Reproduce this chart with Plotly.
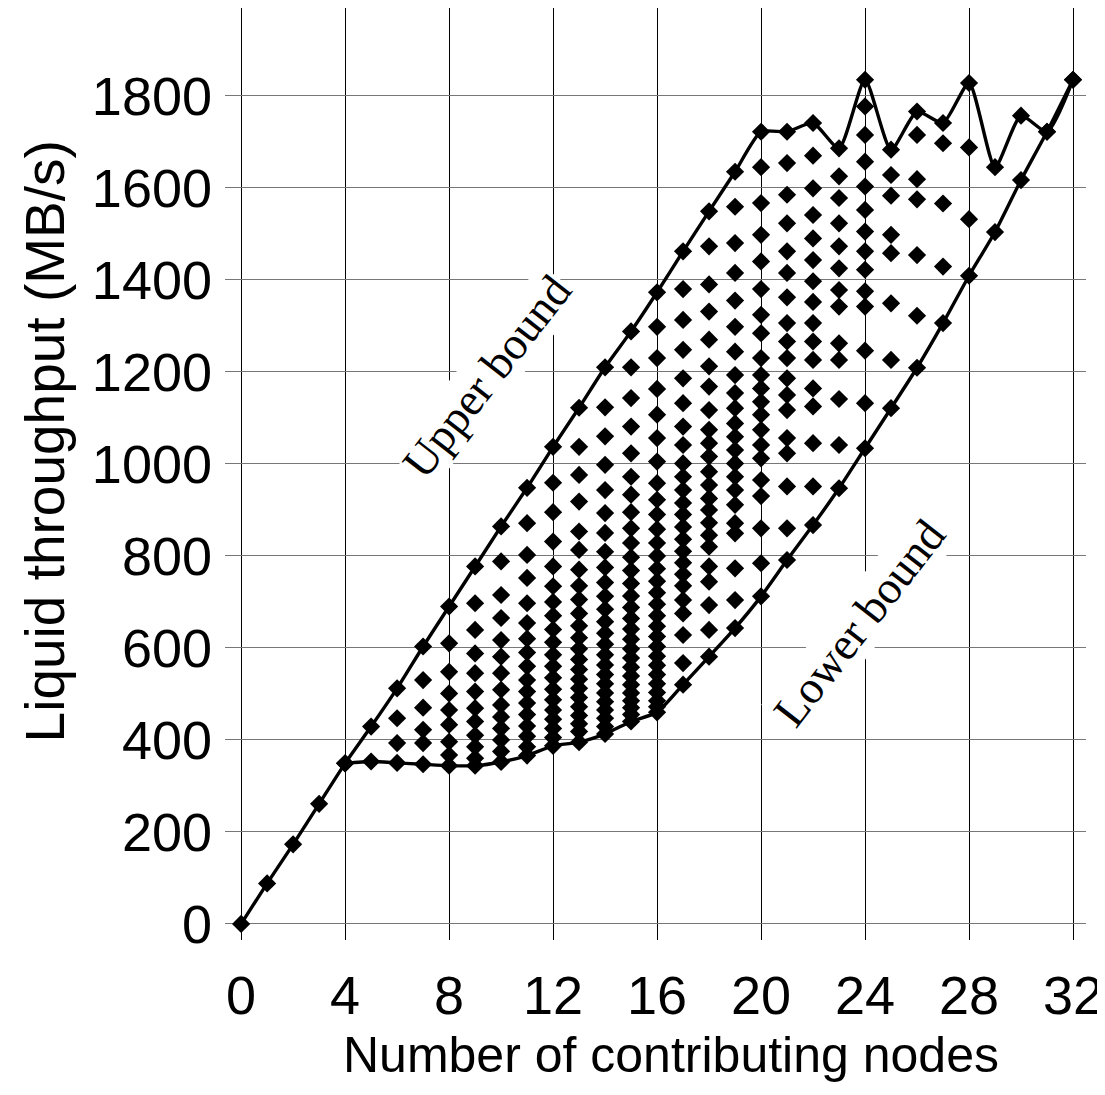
import plotly.graph_objects as go

# ---- data ----
nodes = list(range(0, 33))
upper_bound = [0, 88, 173, 261, 349, 429, 512, 603, 690, 777, 864, 948, 1037, 1122, 1210, 1288,
               1373, 1462, 1549, 1635, 1722, 1722, 1741, 1686, 1835, 1683, 1766, 1741, 1828,
               1645, 1757, 1722, 1835]
lower_nodes = list(range(4, 33))
lower_bound = [349, 353, 350, 347, 344, 344, 352, 366, 387, 395, 413, 440, 460, 520, 581, 643,
               712, 791, 867, 947, 1034, 1121, 1209, 1306, 1409, 1504, 1617, 1722, 1835]

mid_06 = [447, 393]
mid_07 = [530, 470, 422, 393]
mid_08 = [610, 548, 501, 465, 433, 396, 367]
mid_09 = [697, 639, 588, 545, 505, 469, 440, 410, 385, 360]
mid_10 = [788, 715, 665, 617, 581, 545, 509, 476, 450, 425, 400, 375]
mid_11 = [871, 802, 752, 697, 654, 620, 590, 560, 530, 505, 480, 455, 430, 408, 385]
mid_12 = [959, 895, 831, 777, 734, 700, 670, 640, 612, 585, 560, 535, 510, 487, 465, 445, 425, 405]
mid_13 = [1037, 976, 918, 853, 813, 770, 735, 705, 675, 648, 622, 598, 575, 553, 532, 512, 492,
          472, 453, 435, 418]
mid_14 = [1123, 1060, 998, 943, 893, 850, 809, 775, 742, 712, 684, 657, 632, 608, 585, 563, 542,
          522, 502, 483, 465, 447, 429]
mid_15 = [1210, 1143, 1081, 1023, 972, 933, 895, 860, 828, 797, 768, 740, 713, 688, 664, 641, 619,
          598, 578, 558, 539, 520, 502, 485, 470, 455]
mid_16 = [1298, 1230, 1163, 1107, 1056, 1005, 958, 922, 890, 858, 828, 800, 772, 745, 720, 695,
          670, 647, 625, 603, 582, 562, 542, 522, 503, 485, 472]
mid_17 = [1380, 1313, 1248, 1186, 1132, 1081, 1041, 1001, 972, 943, 915, 890, 863, 836, 810, 785,
          760, 735, 704, 675, 628, 567]
mid_18 = [1473, 1390, 1331, 1270, 1212, 1168, 1117, 1074, 1045, 1016, 983, 954, 925, 900, 872,
          845, 820, 777, 744, 693, 639]
mid_19 = [1559, 1480, 1415, 1355, 1298, 1244, 1193, 1154, 1121, 1088, 1059, 1030, 1001, 972, 943,
          911, 871, 849, 773, 704]
mid_20 = [1645, 1567, 1498, 1440, 1380, 1324, 1284, 1230, 1193, 1164, 1135, 1107, 1074, 1041,
          1012, 965, 930, 860, 784]
mid_21 = [1654, 1585, 1523, 1462, 1415, 1362, 1306, 1266, 1230, 1186, 1150, 1117, 1056, 1023, 951, 860]
mid_22 = [1670, 1599, 1541, 1490, 1443, 1397, 1352, 1306, 1266, 1226, 1164, 1125, 1045, 951]
mid_23 = [1625, 1578, 1523, 1473, 1425, 1378, 1342, 1262, 1226, 1141, 1041]
mid_24 = [1777, 1715, 1657, 1603, 1552, 1505, 1462, 1422, 1375, 1342, 1246, 1132]
mid_25 = [1628, 1583, 1498, 1458, 1349, 1226]
mid_26 = [1715, 1619, 1575, 1454, 1322]
mid_27 = [1697, 1566, 1429]
mid_28 = [1688, 1532]

middle_columns = [(6, mid_06), (7, mid_07), (8, mid_08), (9, mid_09), (10, mid_10), (11, mid_11),
                  (12, mid_12), (13, mid_13), (14, mid_14), (15, mid_15), (16, mid_16),
                  (17, mid_17), (18, mid_18), (19, mid_19), (20, mid_20), (21, mid_21),
                  (22, mid_22), (23, mid_23), (24, mid_24), (25, mid_25), (26, mid_26),
                  (27, mid_27), (28, mid_28)]

x_ticks = [0, 4, 8, 12, 16, 20, 24, 28, 32]
y_ticks = [0, 200, 400, 600, 800, 1000, 1200, 1400, 1600, 1800]

# ---- gather all points ----
px, py = [], []
for n, v in zip(nodes, upper_bound):
    px.append(n); py.append(v)
for n, v in zip(lower_nodes, lower_bound):
    px.append(n); py.append(v)
for n, vals in middle_columns:
    for v in vals:
        px.append(n); py.append(v)

fig = go.Figure()
line_style = dict(color="black", width=3.4, shape="spline", smoothing=0.6)
fig.add_trace(go.Scatter(x=nodes, y=upper_bound, mode="lines", line=line_style, hoverinfo="skip"))
fig.add_trace(go.Scatter(x=lower_nodes, y=lower_bound, mode="lines", line=line_style, hoverinfo="skip"))
fig.add_trace(go.Scatter(x=px, y=py, mode="markers",
                         marker=dict(symbol="diamond", size=14, color="black", line=dict(width=0))))

sans = "Liberation Sans, Arial, sans-serif"
serif = "Liberation Serif, Times New Roman, serif"

fig.update_layout(
    width=1097, height=1087,
    margin=dict(l=217, r=19, t=0, b=155),
    plot_bgcolor="white", paper_bgcolor="white",
    showlegend=False,
    xaxis=dict(range=[-0.62, 32.5], tickvals=x_ticks, ticktext=[str(t) for t in x_ticks],
               showgrid=True, gridcolor="black", gridwidth=1, zeroline=False, showline=False,
               ticks="", tickfont=dict(family=sans, size=54, color="black"),
               ticklabelstandoff=19),
    yaxis=dict(range=[-35, 1991], tickvals=y_ticks, ticktext=[str(t) for t in y_ticks],
               showgrid=True, gridcolor="#777777", gridwidth=1, zeroline=False, showline=False,
               ticks="", tickfont=dict(family=sans, size=54, color="black"),
               ticklabelstandoff=12),
    annotations=[
        dict(text="Number of contributing nodes", x=0.518, y=-0.1234, xref="paper", yref="paper",
             xanchor="center", yanchor="middle",
             showarrow=False, font=dict(family=sans, size=50, color="black")),
        dict(text="Liquid throughput (MB/s)", x=-0.209, y=0.535, xref="paper", yref="paper",
             xanchor="center", yanchor="middle",
             showarrow=False, textangle=-90, font=dict(family=sans, size=55, color="black")),
        dict(text="Upper bound", x=9.45, y=1190, xref="x", yref="y", showarrow=False,
             textangle=-52, bgcolor="white", font=dict(family=serif, size=46, color="black")),
        dict(text="Lower bound", x=23.8, y=655, xref="x", yref="y", showarrow=False,
             textangle=-52, bgcolor="white", font=dict(family=serif, size=46, color="black")),
    ],
)

fig.write_html("out.html")
